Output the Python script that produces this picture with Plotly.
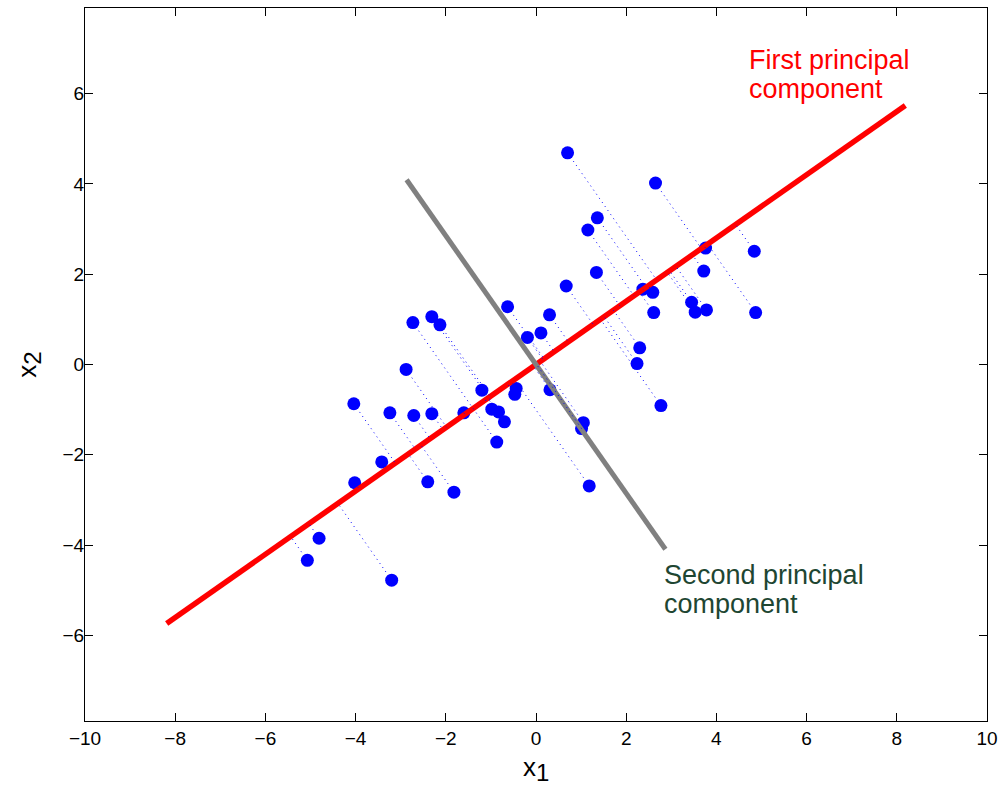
import plotly.graph_objects as go
import numpy as np

# ---- data ----
x1 = [0.70, 2.65, 1.36, 1.15, 3.76, 4.84, 1.34, 3.72, 0.67, 2.37,
      2.59, 3.45, 3.53, 3.78, 2.61, 4.87, 0.30, -0.63, -2.31, -2.73,
      -2.13, 0.11, -0.19, 2.30, 2.24, -2.88, -1.20, -0.44, -0.47, 0.31,
      2.77, -4.04, -3.24, -2.71, -2.31, -1.60, -0.98, -0.83, -0.70, -0.87,
      1.05, 1.01, 1.18, -3.42, -4.02, -2.40, -1.82, -4.81, -5.07, -3.20]
x2 = [4.69, 4.02, 3.25, 2.98, 2.58, 2.51, 2.04, 2.07, 1.74, 1.67,
      1.60, 1.38, 1.16, 1.21, 1.15, 1.15, 1.10, 1.28, 1.06, 0.93,
      0.88, 0.70, 0.60, 0.37, 0.02, -0.11, -0.57, -0.53, -0.66, -0.56,
      -0.91, -0.87, -1.07, -1.13, -1.09, -1.07, -0.99, -1.05, -1.27, -1.72,
      -1.29, -1.42, -2.69, -2.16, -2.62, -2.60, -2.83, -3.85, -4.34, -4.78]

pc1_direction = [0.819, 0.574]   # unit direction of first principal component
pc1_half_length = 10.0
pc2_half_length = 5.0

x_ticks = [-10, -8, -6, -4, -2, 0, 2, 4, 6, 8, 10]
y_ticks = [-6, -4, -2, 0, 2, 4, 6]

label_pc1 = ["First principal", "component"]
label_pc2 = ["Second principal", "component"]

# ---- derived geometry ----
u = np.array(pc1_direction) / np.linalg.norm(pc1_direction)
v = np.array([-u[1], u[0]])
P = np.column_stack([x1, x2])
t = P @ u
proj = np.outer(t, u)

dx, dy = [], []
for (px, py), (qx, qy) in zip(P, proj):
    dx += [px, qx, None]
    dy += [py, qy, None]

s = np.array([-1.0, 1.0])
pc1_x = s * pc1_half_length * u[0]
pc1_y = s * pc1_half_length * u[1]
pc2_x = s * pc2_half_length * v[0]
pc2_y = s * pc2_half_length * v[1]

FONT = "Liberation Sans, Arial, sans-serif"

fig = go.Figure()
fig.add_trace(go.Scatter(x=x1, y=x2, mode="markers",
                         marker=dict(color="#0000ff", size=13, line=dict(width=0)),
                         showlegend=False, hoverinfo="skip"))
fig.add_trace(go.Scatter(x=pc1_x, y=pc1_y, mode="lines",
                         line=dict(color="#ff0000", width=5.5), showlegend=False))
fig.add_trace(go.Scatter(x=pc2_x, y=pc2_y, mode="lines",
                         line=dict(color="#808080", width=5), showlegend=False))
fig.add_trace(go.Scatter(x=dx, y=dy, mode="lines",
                         line=dict(color="#0000ff", width=1, dash="1px,4px"),
                         showlegend=False, hoverinfo="skip"))

ann = []
for i, txt in enumerate(label_pc1):
    ann.append(dict(x=4.67, y=6.74 - i * 0.64, xref="x", yref="y", text=txt,
                    showarrow=False, xanchor="left", yanchor="middle",
                    font=dict(family=FONT, size=27, color="#ff0000")))
for i, txt in enumerate(label_pc2):
    ann.append(dict(x=2.80, y=-4.66 - i * 0.64, xref="x", yref="y", text=txt,
                    showarrow=False, xanchor="left", yanchor="middle",
                    font=dict(family=FONT, size=27, color="#1e4632")))
ann.append(dict(x=0, y=-0.068, xref="x", yref="paper",
                text="x<sub><span style='font-size:24px'>1</span></sub>",
                showarrow=False, xanchor="center", yanchor="middle",
                font=dict(family=FONT, size=26, color="black")))
ann.append(dict(x=-0.063, y=0, xref="paper", yref="y",
                text="x<sub><span style='font-size:24px'>2</span></sub>",
                showarrow=False, xanchor="center", yanchor="middle", textangle=-90,
                font=dict(family=FONT, size=26, color="black")))

axis_common = dict(showgrid=False, zeroline=False, showline=True, linecolor="black",
                   linewidth=1, mirror="ticks", ticks="inside", ticklen=8,
                   tickcolor="black", tickwidth=1,
                   tickfont=dict(family=FONT, size=19, color="black"))

fig.update_layout(
    width=1005, height=787,
    margin=dict(l=85, r=14, t=7, b=66),
    paper_bgcolor="white", plot_bgcolor="white",
    xaxis=dict(range=[-10, 10], tickvals=x_ticks, **axis_common),
    yaxis=dict(range=[-7.9, 7.9], tickvals=y_ticks, ticklabelstandoff=-4, **axis_common),
    annotations=ann,
)
fig.write_html("out.html", config={"displayModeBar": False},
               post_script="document.body.style.margin='0';document.body.style.overflow='hidden';")
